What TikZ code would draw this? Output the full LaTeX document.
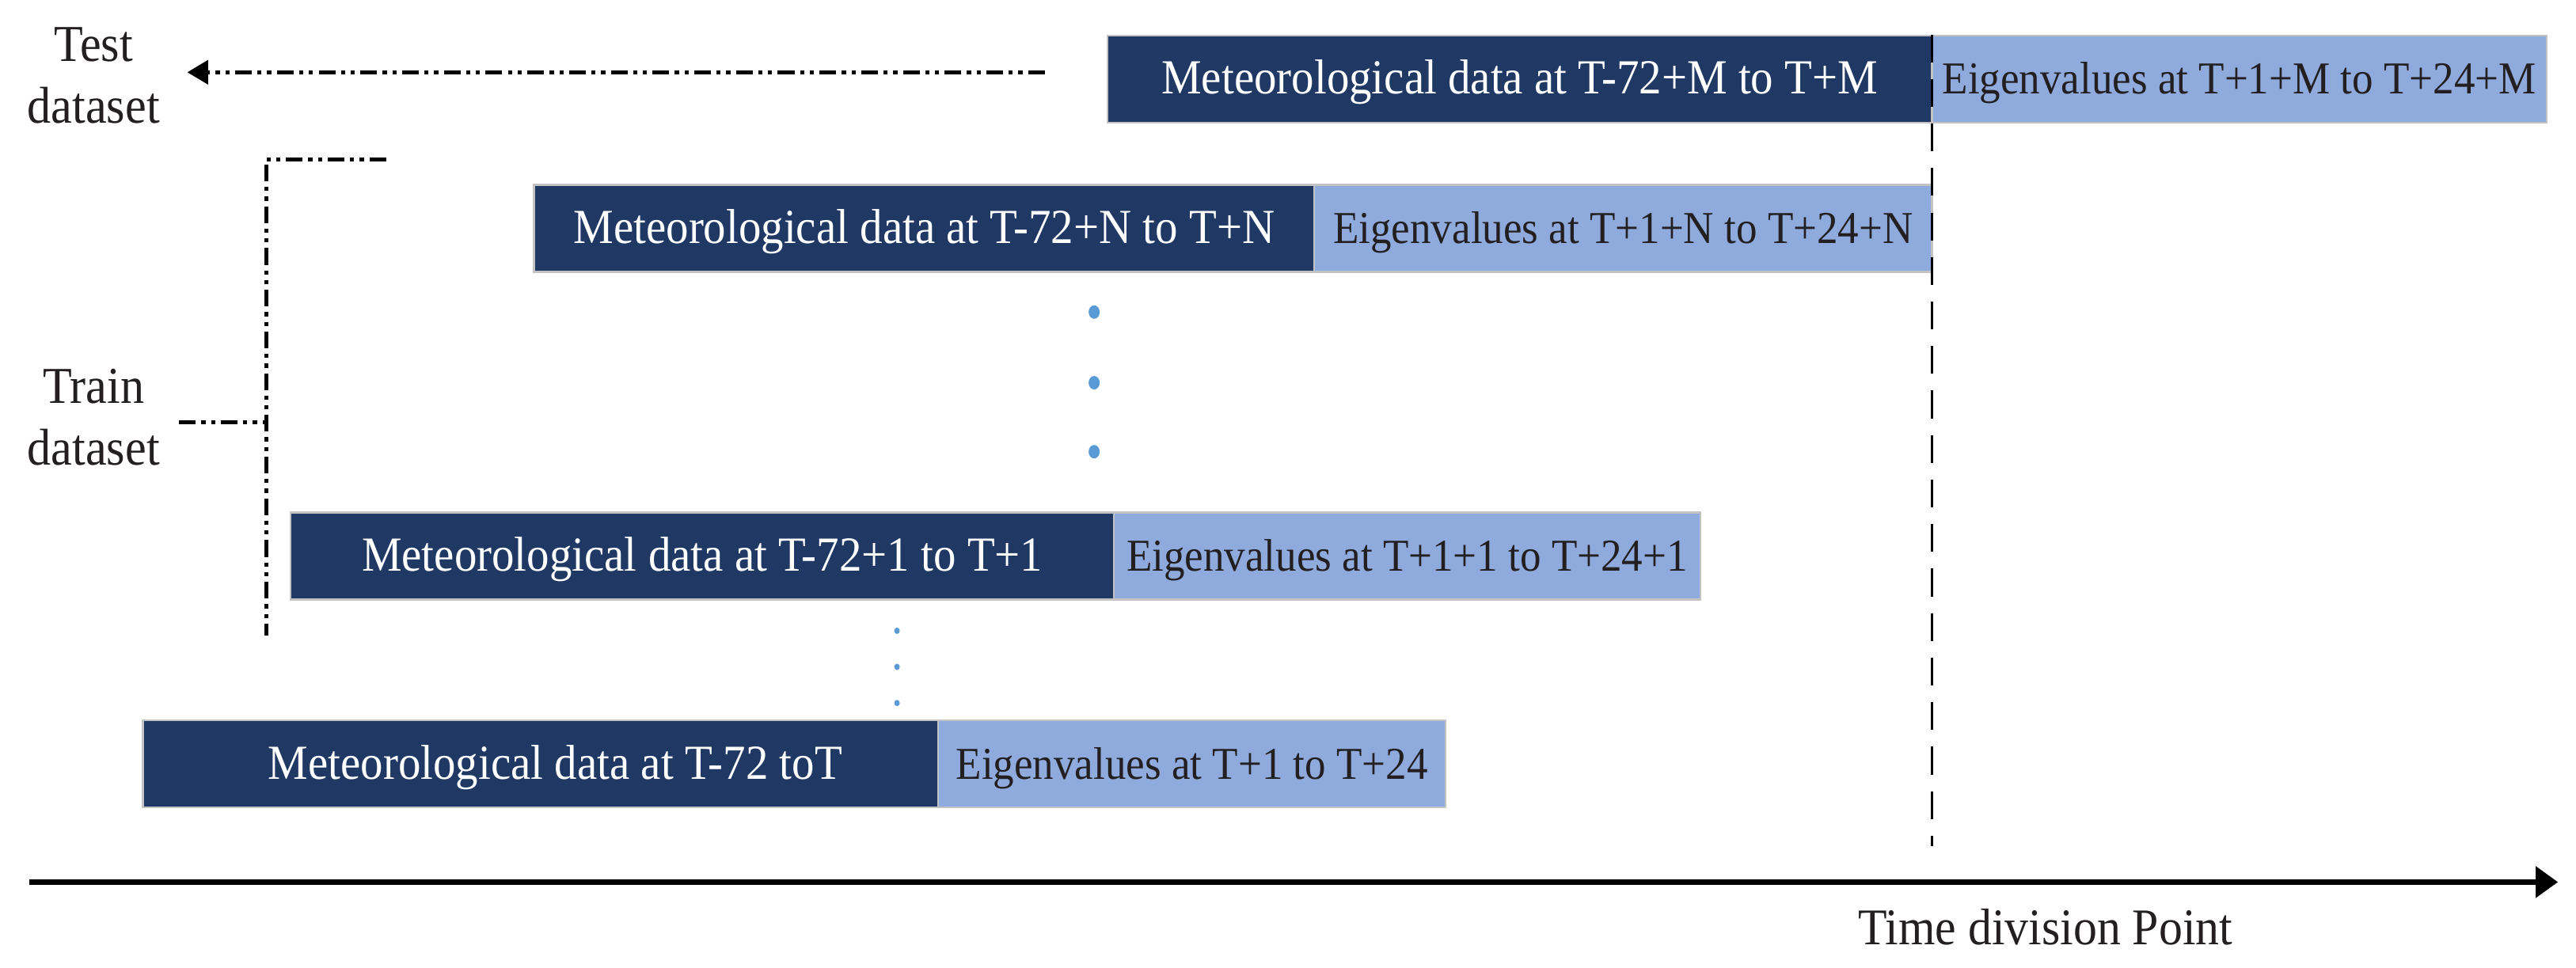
\documentclass[tikz,border=0pt]{standalone}
\usepackage{fontspec}
\setmainfont[FakeStretch=0.92]{Liberation Serif}
\usetikzlibrary{arrows.meta,shapes.geometric}
\definecolor{navy}{RGB}{31,56,100}
\definecolor{lightb}{RGB}{143,170,220}
\definecolor{dotb}{RGB}{91,155,213}
\definecolor{edgeg}{RGB}{195,195,195}
\definecolor{txt}{RGB}{35,31,32}
\begin{document}
\begin{tikzpicture}[x=0.02075cm, y=-0.02075cm,
  bw/.style={minimum width=#1*0.02075cm},
  anybox/.style={draw=edgeg, line width=0.6pt, inner sep=0pt, minimum height=53*0.02075cm,
    text height=12pt, text depth=1pt},
  darkbox/.style={anybox, fill=navy, text=white, font=\fontsize{17.6}{20}\selectfont},
  lightbox/.style={anybox, fill=lightb, text=txt, font=\fontsize{16.4}{20}\selectfont},
  ddot/.style={line width=1.5pt, dash pattern=on 6pt off 2pt on 1.5pt off 2pt on 1.5pt off 2pt},
  bigdot/.style={ellipse, fill=dotb, inner sep=0pt, minimum width=0.14cm, minimum height=0.17cm},
  smalldot/.style={ellipse, fill=dotb, inner sep=0pt, minimum width=0.07cm, minimum height=0.08cm},
  lbl/.style={align=center, text=txt, inner sep=0pt}
]
\useasboundingbox (0,0) rectangle (1568,589);

% boxes
\node[darkbox, bw=502] (dM) at (925,48) {Meteorological data at T-72+M to T+M};
\node[lightbox, bw=374] (lM) at (1363,48) {Eigenvalues at T+1+M to T+24+M};
\node[darkbox, bw=475] (dN) at (562.5,139) {Meteorological data at T-72+N to T+N};
\node[lightbox, bw=376] (lN) at (988,139) {Eigenvalues at T+1+N to T+24+N};
\node[darkbox, bw=501] (d1) at (427.5,338.5) {Meteorological data at T-72+1 to T+1};
\node[lightbox, bw=357] (l1) at (856.5,338.5) {Eigenvalues at T+1+1 to T+24+1};
\node[darkbox, bw=484] (d0) at (329,465) {\hspace*{0.37cm}Meteorological data at T-72 toT};
\node[lightbox, bw=309] (l0) at (725.5,465) {Eigenvalues at T+1 to T+24};

% dots
\node[bigdot] (b1) at (666,190) {};
\node[bigdot] (b2) at (666,233) {};
\node[bigdot] (b3) at (666,275) {};
\node[smalldot] (s1) at (546,384) {};
\node[smalldot] (s2) at (546,406) {};
\node[smalldot] (s3) at (546,428) {};

% labels
\node[lbl, font=\fontsize{18.6}{22}\selectfont] (test) at (57,46) {Test\\dataset};
\node[lbl, font=\fontsize{18.6}{22}\selectfont] (train) at (57,254) {Train\\dataset};
\node[lbl, font=\fontsize{18.5}{22}\selectfont, anchor=base] (time) at (1245,575) {Time division Point};

% test arrow
\coordinate (tstart) at (636,44);
\coordinate (ttip) at (114,44);
\draw[ddot, -{Triangle[length=7.5pt,width=8.5pt]}] (tstart) -- (ttip);

% train bracket
\coordinate (btop) at (235,97);
\coordinate (bcorner) at (162,97);
\coordinate (bbot) at (162,387);
\coordinate (bmid) at (162,257);
\coordinate (bleft) at (109,257);
\draw[ddot] (btop) -- (bcorner) -- (bbot);
\draw[ddot] (bleft) -- (bmid);

% division line
\coordinate (dtop) at (1176,21);
\coordinate (dbot) at (1176,515);
\draw[line width=1.1pt, dash pattern=on 10pt off 6pt] (dtop) -- (dbot);

% axis
\coordinate (ax0) at (18,537);
\coordinate (ax1) at (1557,537);
\draw[line width=1.8pt, -{Triangle[length=8pt,width=11pt]}] (ax0) -- (ax1);
\end{tikzpicture}
\end{document}
